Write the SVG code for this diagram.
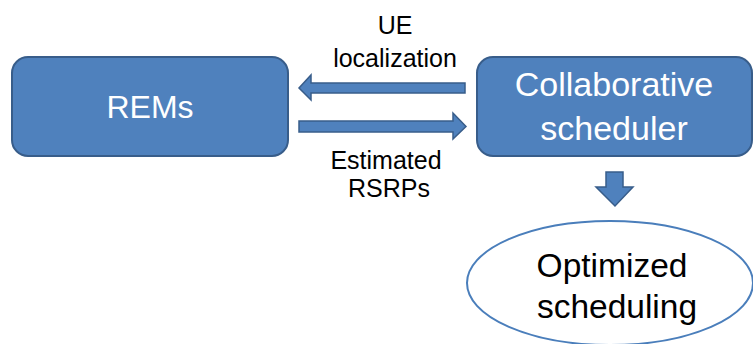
<svg xmlns="http://www.w3.org/2000/svg" width="753" height="344" viewBox="0 0 753 344">
<style>
.box{fill:#4f81bd;stroke:#385d8a;stroke-width:2}
.arr{fill:#4f81bd;stroke:#385d8a;stroke-width:1.5;stroke-linejoin:miter}
.wt{font-family:"Liberation Sans",Arial,sans-serif;font-size:34px;fill:#ffffff;text-anchor:middle}
.bt{font-family:"Liberation Sans",Arial,sans-serif;font-size:33.5px;fill:#000000;text-anchor:middle}
.lt{font-family:"Liberation Sans",Arial,sans-serif;font-size:25px;fill:#000000;text-anchor:middle}
</style>
<rect width="753" height="344" fill="#ffffff"/>
<g id="rems">
<rect class="box" x="12" y="57" width="276" height="99" rx="16" ry="16"/>
<text class="wt" x="150" y="118" style="font-size:32px">REMs</text>
</g>
<g id="scheduler">
<rect class="box" x="477" y="57" width="275" height="99" rx="16" ry="16"/>
<text class="wt" x="614" y="96">Collaborative</text>
<text class="wt" x="614" y="140">scheduler</text>
</g>
<g id="optimized">
<ellipse cx="610" cy="283" rx="143" ry="62" fill="#ffffff" stroke="#4a7ebb" stroke-width="2"/>
<text class="bt" x="612" y="277">Optimized</text>
<text class="bt" x="617" y="318">scheduling</text>
</g>
<g id="connectors">
<polygon class="arr" points="465,83 311,83 311,75 299,88 311,100 311,93 465,93"/>
<text class="lt" x="395" y="34">UE</text>
<text class="lt" x="395" y="67">localization</text>
<polygon class="arr" points="299,121 453,121 453,113 466,126.5 453,139 453,132 299,132"/>
<text class="lt" x="386" y="169">Estimated</text>
<text class="lt" x="389" y="197">RSRPs</text>
<polygon class="arr" points="606,172 623,172 623,187 633,187 615,206 596,187 606,187"/>
</g>
</svg>
